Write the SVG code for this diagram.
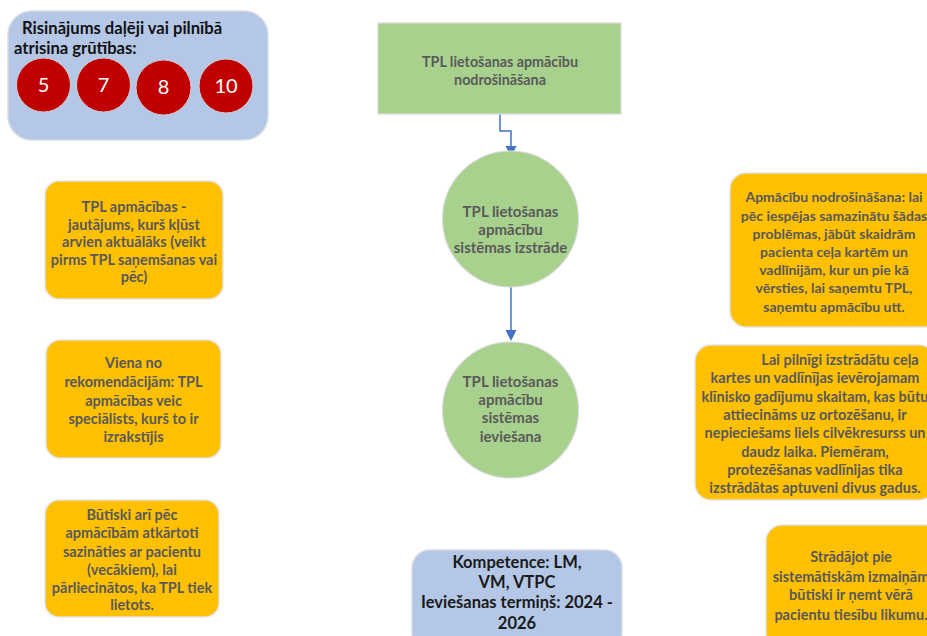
<svg xmlns="http://www.w3.org/2000/svg" width="927" height="636" viewBox="0 0 927 636">
<defs>
<style>
.bg{fill:#ffffff}
.blue{fill:#B4C7E7;stroke:#D6DCE5;stroke-width:1.5}
.orange{fill:#FFC000;stroke:#E4E4E4;stroke-width:1.5}
.green{fill:#A9D18E;stroke:#DADADA;stroke-width:1.2}
.red{fill:#C00000;stroke:#D0CECE;stroke-width:1}
.t{font-family:Lato,"Liberation Sans",sans-serif;font-weight:bold;text-anchor:middle}
.g{fill:#595959;font-size:14.5px}
.gr{fill:#595959;font-size:14px}
.gs{fill:#595959;font-size:14.3px}
.gc{fill:#595959;font-size:15px}
.k{fill:#1a1a1a;font-size:16.5px}
.num{font-family:Lato,"Liberation Sans",sans-serif;fill:#ffffff;font-size:20px;text-anchor:middle}
.conn{fill:none;stroke:#4472C4;stroke-width:1.5}
.head{fill:#4472C4}
</style>
</defs>
<rect class="bg" x="0" y="0" width="927" height="636"/>

<g id="connectors">
<path class="conn" d="M500,114 L500,131 L511,131 L511,148"/>
<polygon class="head" points="505.5,146 516.5,146 511,157"/>
<path class="conn" d="M511,287 L511,332"/>
<polygon class="head" points="505.5,330 516.5,330 511,341"/>
</g>

<g id="solves">
<rect class="blue" x="8" y="11" width="260" height="129" rx="24"/>
<text class="t" style="font-size:16.6px;fill:#111;text-anchor:start" x="22" y="34">Risinājums daļēji vai pilnībā</text>
<text class="t" style="font-size:16.6px;fill:#111;text-anchor:start" x="14" y="54">atrisina grūtības:</text>
<circle class="red" cx="43.5" cy="85" r="27"/>
<circle class="red" cx="103.5" cy="85" r="27"/>
<circle class="red" cx="163.5" cy="87.5" r="27.5"/>
<circle class="red" cx="226" cy="86" r="27"/>
<text class="num" x="43.5" y="92">5</text>
<text class="num" x="103.5" y="92">7</text>
<text class="num" x="163.5" y="94">8</text>
<text class="num" x="226" y="93">10</text>
</g>

<g id="provide">
<rect class="green" x="378" y="23" width="243" height="91"/>
<text class="t gs" x="500" y="67">TPL lietošanas apmācību</text>
<text class="t gs" x="500" y="85">nodrošināšana</text>
</g>

<g id="develop">
<circle class="green" cx="510.5" cy="219" r="68"/>
<text class="t gc" x="510.5" y="217">TPL lietošanas</text>
<text class="t gc" x="510.5" y="235">apmācību</text>
<text class="t gc" x="510.5" y="253">sistēmas izstrāde</text>
</g>

<g id="implement">
<circle class="green" cx="510.5" cy="410" r="68"/>
<text class="t gc" x="510.5" y="387">TPL lietošanas</text>
<text class="t gc" x="510.5" y="405">apmācību</text>
<text class="t gc" x="510.5" y="423">sistēmas</text>
<text class="t gc" x="510.5" y="442">ieviešana</text>
</g>

<g id="note-left-1">
<rect class="orange" x="45" y="181" width="178" height="118" rx="14"/>
<text class="t g" x="134" y="212">TPL apmācības -</text>
<text class="t g" x="134" y="229.5">jautājums, kurš kļūst</text>
<text class="t g" x="134" y="247">arvien aktuālāks (veikt</text>
<text class="t g" x="134" y="265">pirms TPL saņemšanas vai</text>
<text class="t g" x="134" y="282">pēc)</text>
</g>

<g id="note-left-2">
<rect class="orange" x="46" y="340" width="175" height="118" rx="14"/>
<text class="t g" x="133.5" y="368">Viena no</text>
<text class="t g" x="133.5" y="387">rekomendācijām: TPL</text>
<text class="t g" x="133.5" y="406">apmācības veic</text>
<text class="t g" x="133.5" y="424">speciālists, kurš to ir</text>
<text class="t g" x="133.5" y="442">izrakstījis</text>
</g>

<g id="note-left-3">
<rect class="orange" x="45" y="500" width="174" height="117" rx="14"/>
<text class="t g" x="132" y="520">Būtiski arī pēc</text>
<text class="t g" x="132" y="538">apmācībām atkārtoti</text>
<text class="t g" x="132" y="557">sazināties ar pacientu</text>
<text class="t g" x="132" y="575">(vecākiem), lai</text>
<text class="t g" x="132" y="593">pārliecinātos, ka TPL tiek</text>
<text class="t g" x="132" y="610">lietots.</text>
</g>

<g id="note-right-1">
<rect class="orange" x="730" y="173" width="210" height="154" rx="16"/>
<text class="t gr" x="834" y="202">Apmācību nodrošināšana: lai</text>
<text class="t gr" x="834" y="221">pēc iespējas samazinātu šādas</text>
<text class="t gr" x="834" y="239">problēmas, jābūt skaidrām</text>
<text class="t gr" x="834" y="257">pacienta ceļa kartēm un</text>
<text class="t gr" x="834" y="275">vadlīnijām, kur un pie kā</text>
<text class="t gr" x="834" y="293">vērsties, lai saņemtu TPL,</text>
<text class="t gr" x="834" y="312">saņemtu apmācību utt.</text>
</g>

<g id="note-right-2">
<rect class="orange" x="695" y="345" width="240" height="155" rx="16"/>
<text class="t g" x="840" y="365">Lai pilnīgi izstrādātu ceļa</text>
<text class="t g" x="815" y="383">kartes un vadlīnījas ievērojamam</text>
<text class="t g" x="815" y="402">klīnisko gadījumu skaitam, kas būtu</text>
<text class="t g" x="815" y="420">attiecināms uz ortozēšanu, ir</text>
<text class="t g" x="815" y="438">nepieciešams liels cilvēkresurss un</text>
<text class="t g" x="815" y="457">daudz laika. Piemēram,</text>
<text class="t g" x="815" y="475">protezēšanas vadlīnijas tika</text>
<text class="t g" x="815" y="493">izstrādātas aptuveni divus gadus.</text>
</g>

<g id="note-right-3">
<rect class="orange" x="766" y="525" width="212" height="125" rx="16"/>
<text class="t g" x="851" y="562">Strādājot pie</text>
<text class="t g" x="851" y="582">sistemātiskām izmaiņām</text>
<text class="t g" x="851" y="600">būtiski ir ņemt vērā</text>
<text class="t g" x="851" y="620">pacientu tiesību likumu.</text>
</g>

<g id="competence">
<rect class="blue" x="412" y="550" width="210" height="100" rx="18"/>
<text class="t k" x="517" y="568">Kompetence: LM,</text>
<text class="t k" x="517" y="588">VM,  VTPC</text>
<text class="t k" x="517" y="608">Ieviešanas termiņš: 2024 -</text>
<text class="t k" x="517" y="629">2026</text>
</g>
</svg>
